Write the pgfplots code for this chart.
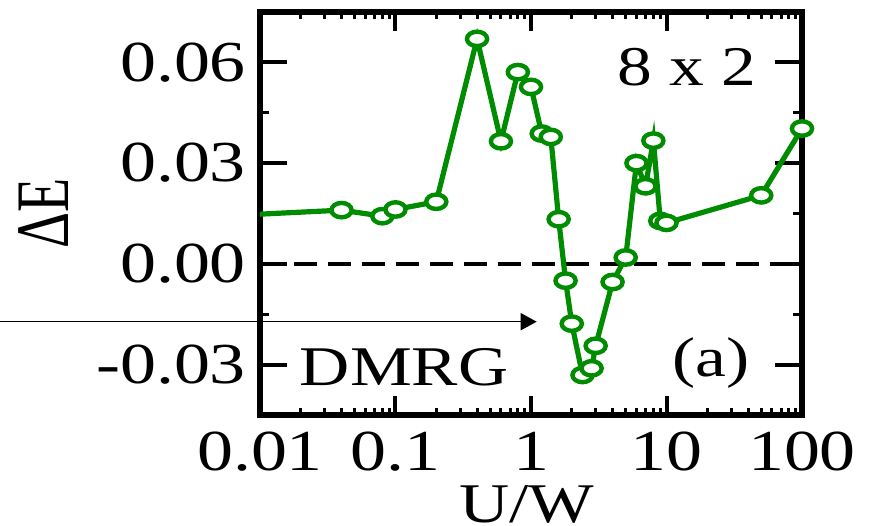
\documentclass[border=0pt]{standalone}
\usepackage{fontspec}
\setmainfont[FakeStretch=1.24]{Liberation Serif}
\newfontfamily\plainserif{Liberation Serif}
\usepackage{pgfplots}
\pgfplotsset{compat=1.18}
\usetikzlibrary{arrows.meta}
\definecolor{dgreen}{rgb}{0,0.55,0}
\pgfplotstableread{
x y
0.01 0.0148
0.04 0.0160
0.08 0.0142
0.1 0.0162
0.2 0.0185
0.4 0.0670
0.6 0.0365
0.8 0.0571
1.0 0.0527
1.2 0.0388
1.4 0.0378
1.6 0.0133
1.8 -0.0050
2.0 -0.0178
2.4 -0.0331
2.8 -0.0311
3.0 -0.0244
4.0 -0.0054
5.0 0.0019
6.0 0.0300
7.0 0.0231
8.0 0.0367
9.0 0.0128
10 0.0122
50 0.0204
100 0.0403
}\dataE
\begin{document}
\begin{tikzpicture}
\begin{axis}[
  scale only axis, width=271pt, height=201.5pt,
  xmode=log, xmin=0.01, xmax=100, ymin=-0.045, ymax=0.075,
  xtick={0.01,0.1,1,10,100}, xticklabels={0.01,0.1,1,10,100},
  ytick={-0.03,0,0.03,0.06}, yticklabels={-0.03,0.00,0.03,0.06},
  minor ytick={-0.015,0.015,0.045},
  tick align=inside,
  axis line style={line width=3.2pt},
  every major tick/.style={black, line width=2pt},
  every minor tick/.style={black, line width=1.5pt},
  major tick length=13.5pt, minor tick length=4.5pt,
  x tick style={/pgfplots/major tick length=9.5pt, /pgfplots/minor tick length=3.5pt},
  /pgf/number format/assume math mode=true,
  tick label style={font=\fontsize{29}{32}\selectfont},
  yticklabel style={xshift=-3.5pt},
  xticklabel style={yshift=-5pt},
  clip=false,
]
\addplot[black, line width=2pt, dash pattern=on 11.5pt off 5.5pt] coordinates {(0.01,0) (100,0)};
\addplot[dgreen, line width=2.6pt, mark=*, mark size=3.6pt, mark indices={2,...,26},
  mark options={fill=white, draw=dgreen, line width=2.2pt, xscale=1.4, solid}] table[x=x,y=y] {\dataE};
\draw[line width=0.8pt, -{Triangle[length=8pt,width=8.5pt]}] (rel axis cs:-0.48,0.2315) -- (rel axis cs:0.5105,0.2315);
\node[font=\fontsize{28}{32}\selectfont] at (rel axis cs:0.788,0.864) {8 x 2};
\node[font=\fontsize{28}{32}\selectfont] at (rel axis cs:0.266,0.119) {DMRG};
\node[font=\fontsize{28}{32}\selectfont] at (rel axis cs:0.832,0.129) {(a)};
\node[font=\plainserif\fontsize{28}{32}\selectfont, rotate=90, yscale=1.35] at (rel axis cs:-0.3985,0.5) {ΔE};
\node[font=\fontsize{28}{32}\selectfont] at (rel axis cs:0.492,0) [yshift=-44.5pt] {U/W};
\end{axis}
\pgfresetboundingbox
\path ([shift={(-130pt,-55.5pt)}]current axis.south west) rectangle ([shift={(35.5pt,6pt)}]current axis.north east);
\end{tikzpicture}
\end{document}
